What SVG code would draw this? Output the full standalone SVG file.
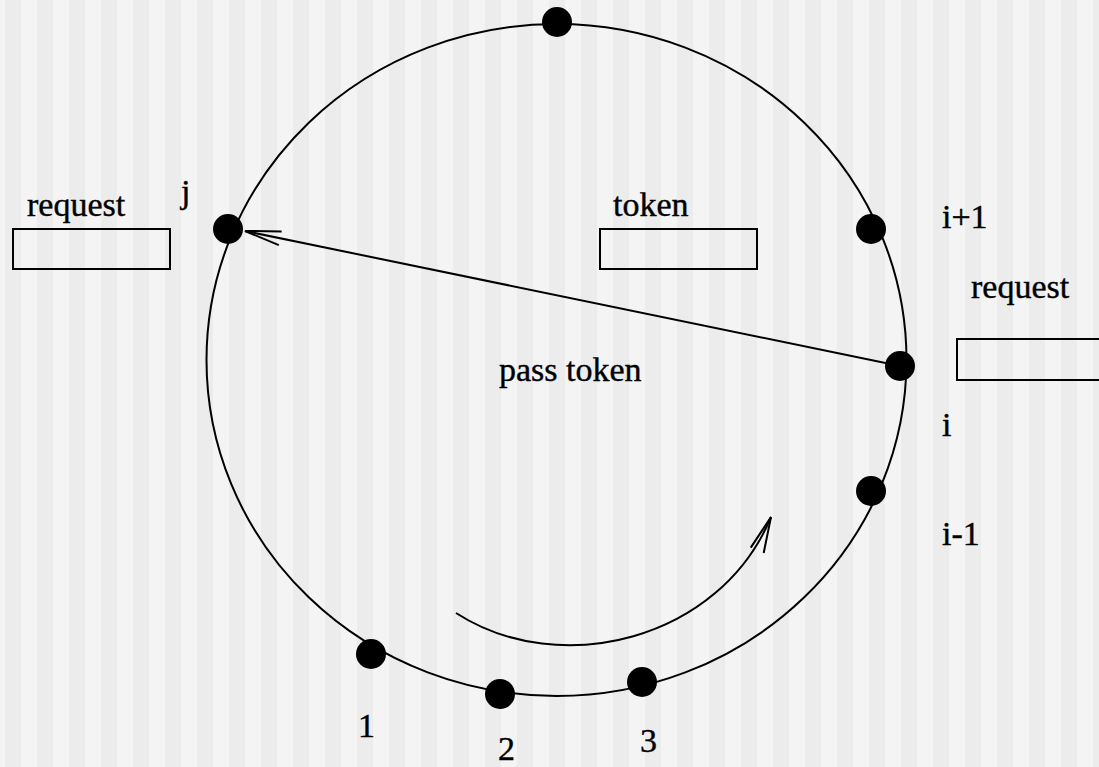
<svg xmlns="http://www.w3.org/2000/svg" width="1099" height="767" viewBox="0 0 1099 767">
<defs>
<pattern id="stripes" x="5" y="0" width="32" height="767" patternUnits="userSpaceOnUse">
<rect x="0" y="0" width="16" height="767" fill="#ececec"/>
<rect x="16" y="0" width="16" height="767" fill="#f4f4f4"/>
</pattern>
<marker id="open" viewBox="0 0 40 20" refX="37" refY="10" markerWidth="40" markerHeight="20" markerUnits="userSpaceOnUse" orient="auto">
<path d="M 1 3 L 37 10 L 1 17" fill="none" stroke="#000" stroke-width="2"/>
</marker>
</defs>
<style>
.t{font-family:"Liberation Serif","Times New Roman",serif;font-size:34px;fill:#000;stroke:#000;stroke-width:0.4}
.ln{fill:none;stroke:#000;stroke-width:2}
.node{fill:#000}
.box{fill:none;stroke:#000;stroke-width:2}
</style>
<rect x="0" y="0" width="1099" height="767" fill="#f4f4f4"/>
<rect x="0" y="0" width="1099" height="767" fill="url(#stripes)"/>
<g id="ring">
<ellipse cx="556.5" cy="360" rx="350" ry="336" class="ln"/>
</g>
<g id="connectors">
<line x1="900" y1="366" x2="245" y2="231" class="ln" marker-end="url(#open)"/>
<path d="M 456 613 C 560 680 720 640 771 517" class="ln" marker-end="url(#open)"/>
</g>
<g id="n-top"><circle cx="557" cy="22" r="15" class="node"/></g>
<g id="n-j"><circle cx="228" cy="229" r="15" class="node"/><text x="181" y="203" class="t">j</text></g>
<g id="n-i1"><circle cx="871" cy="229" r="15" class="node"/><text x="942" y="228" class="t">i+1</text></g>
<g id="n-i"><circle cx="900" cy="366" r="15" class="node"/><text x="942" y="436" class="t">i</text></g>
<g id="n-im1"><circle cx="871" cy="491" r="15" class="node"/><text x="942" y="545" class="t">i-1</text></g>
<g id="n-1"><circle cx="371" cy="654" r="15" class="node"/><text x="358" y="737" class="t">1</text></g>
<g id="n-2"><circle cx="500" cy="694" r="15" class="node"/><text x="498" y="760" class="t">2</text></g>
<g id="n-3"><circle cx="642" cy="682" r="15" class="node"/><text x="640" y="752" class="t">3</text></g>
<g id="req-left"><text x="27" y="216" class="t">request</text><rect x="13" y="229" width="157" height="40" class="box"/></g>
<g id="token"><text x="613" y="216" class="t">token</text><rect x="600" y="229" width="157" height="40" class="box"/></g>
<g id="req-right"><text x="971" y="298" class="t">request</text><rect x="957" y="339" width="160" height="41" class="box"/></g>
<g id="label-pass"><text x="499" y="381" class="t">pass token</text></g>
</svg>
